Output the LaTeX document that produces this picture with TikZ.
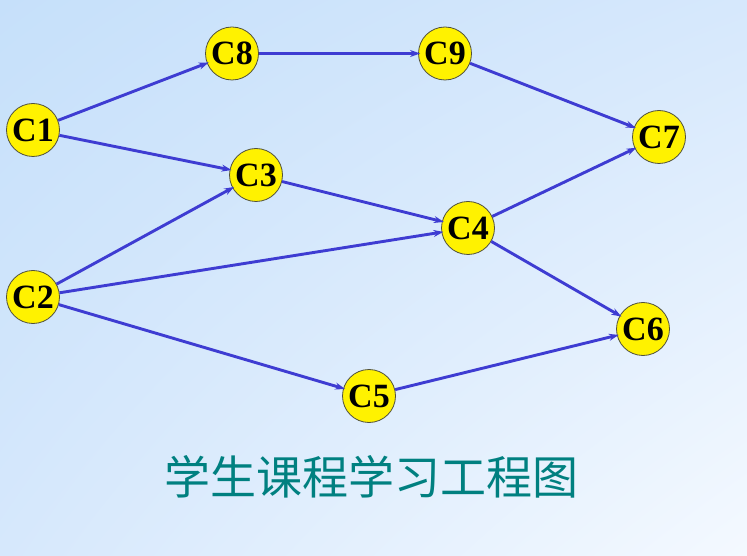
\documentclass[tikz,border=0pt]{standalone}
\usepackage{fontspec}
\setmainfont{Liberation Serif}
\newfontfamily\cjk{Noto Sans CJK SC}
\usetikzlibrary{arrows.meta,shadings}
\definecolor{bgA}{RGB}{198,224,250}
\definecolor{bgB}{RGB}{214,232,252}
\definecolor{bgC}{RGB}{244,249,255}
\definecolor{edgeblue}{RGB}{62,60,210}
\definecolor{titleteal}{RGB}{0,128,128}
\definecolor{rim}{RGB}{80,80,60}
\tikzset{
  course/.style={circle, fill=yellow, draw=rim, line width=0.8pt, minimum size=53pt, inner sep=0pt,
    font=\fontsize{34}{34}\selectfont\bfseries, text depth=0pt},
  link/.style={draw=edgeblue, line width=2.9pt, -{Stealth[length=10pt,width=7pt]}, shorten >=-2pt},
  titletext/.style={text=titleteal, font=\cjk\fontsize{46}{46}\selectfont}
}
\begin{document}
\begin{tikzpicture}[x=1pt,y=1pt]
\shade[upper left=bgA, upper right=bgB, lower left=bgB, lower right=bgC] (0,0) rectangle (747,555);
\useasboundingbox (0,0) rectangle (747,555);
\node[course] (c1) at (33,425) {C1};
\node[course] (c8) at (232,501.5) {C8};
\node[course] (c9) at (445,501.5) {C9};
\node[course] (c7) at (659,418) {C7};
\node[course] (c3) at (256,380) {C3};
\node[course] (c4) at (468,327) {C4};
\node[course] (c2) at (33,258) {C2};
\node[course] (c6) at (643,226) {C6};
\node[course] (c5) at (369,159) {C5};
\draw[link] (c1) -- (c8);
\draw[link] (c1) -- (c3);
\draw[link] (c8) -- (c9);
\draw[link] (c9) -- (c7);
\draw[link] (c2) -- (c3);
\draw[link] (c2) -- (c4);
\draw[link] (c2) -- (c5);
\draw[link] (c3) -- (c4);
\draw[link] (c4) -- (c7);
\draw[link] (c4) -- (c6);
\draw[link] (c5) -- (c6);
\node[titletext] (title) at (371,78) {学生课程学习工程图};
\end{tikzpicture}
\end{document}
